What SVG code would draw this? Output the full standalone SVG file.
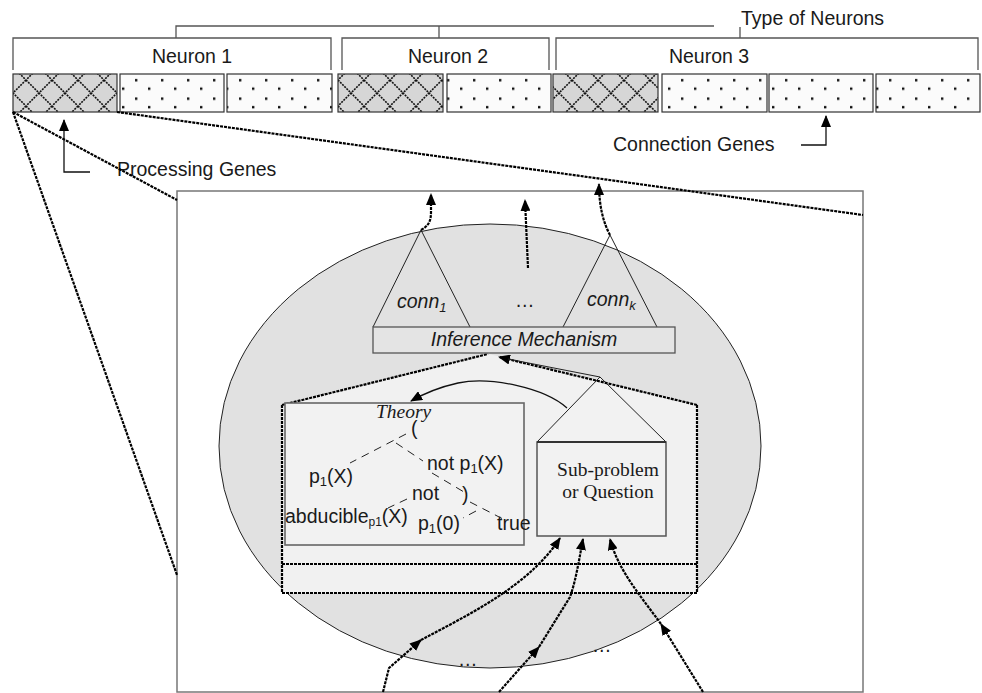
<svg xmlns="http://www.w3.org/2000/svg" width="982" height="693" viewBox="0 0 982 693">
<defs>
<style>
text{font-family:"Liberation Sans",Arial,sans-serif;font-size:19.5px;fill:#1a1a1a}
.serif{font-family:"Liberation Serif","Times New Roman",serif}
.it{font-style:italic}
.br{fill:none;stroke:#555;stroke-width:1.3}
.cell{stroke:#333;stroke-width:1.2}
.dash{fill:none;stroke:#000;stroke-width:2.2;stroke-dasharray:3 1}
.thin{fill:none;stroke:#222;stroke-width:1}
.tree{fill:none;stroke:#222;stroke-width:1;stroke-dasharray:8 6}
.arr{fill:none;stroke:#111;stroke-width:1.3}
.arrd{fill:none;stroke:#000;stroke-width:2.2;stroke-dasharray:3 1}
</style>
<pattern id="hatch" patternUnits="userSpaceOnUse" x="0" y="80" width="26" height="26">
<rect width="26" height="26" fill="#d6d6d6"/>
<path d="M0,0 L26,26 M26,0 L0,26" stroke="#111" stroke-width="1.6" stroke-dasharray="2 1"/>
</pattern>
<pattern id="dots" patternUnits="userSpaceOnUse" x="0" y="74" width="26" height="18.5">
<rect width="26" height="18.5" fill="#fbfbfb"/>
<rect x="5" y="5" width="2.4" height="2.4" fill="#111"/>
<rect x="18" y="13.5" width="2.4" height="2.4" fill="#111"/>
</pattern>
<marker id="ah" viewBox="0 0 12 10" refX="11" refY="5" markerWidth="12" markerHeight="10" markerUnits="userSpaceOnUse" orient="auto"><path d="M0,0 L12,5 L0,10 z" fill="#000"/></marker>
</defs>

<g id="type-bracket">
<path class="br" d="M176,38 V26 H714 M439,26 V38 M740,27 V38"/>
<text x="741" y="25">Type of Neurons</text>
</g>
<g id="neuron1-bracket">
<path class="br" d="M13,70 V38 H331 V70"/>
<text x="192" y="63" text-anchor="middle">Neuron 1</text>
</g>
<g id="neuron2-bracket">
<path class="br" d="M342,70 V38 H549 V70"/>
<text x="448" y="63" text-anchor="middle">Neuron 2</text>
</g>
<g id="neuron3-bracket">
<path class="br" d="M556,70 V38 H978 V70"/>
<text x="709" y="63" text-anchor="middle">Neuron 3</text>
</g>

<g id="genes">
<rect class="cell" x="13" y="74" width="104" height="38" fill="url(#hatch)"/>
<rect class="cell" x="120" y="74" width="104" height="38" fill="url(#dots)"/>
<rect class="cell" x="227" y="74" width="105" height="38" fill="url(#dots)"/>
<rect class="cell" x="338" y="74" width="105" height="38" fill="url(#hatch)"/>
<rect class="cell" x="447" y="74" width="104" height="38" fill="url(#dots)"/>
<rect class="cell" x="553" y="74" width="105" height="38" fill="url(#hatch)"/>
<rect class="cell" x="662" y="74" width="105" height="38" fill="url(#dots)"/>
<rect class="cell" x="769" y="74" width="104" height="38" fill="url(#dots)"/>
<rect class="cell" x="876" y="74" width="104" height="38" fill="url(#dots)"/>
</g>

<g id="processing-genes">
<path class="arr" d="M90,172 H64 V120" marker-end="url(#ah)"/>
<text x="117" y="176">Processing Genes</text>
</g>
<g id="connection-genes">
<path class="arr" d="M801,145 H826 V116" marker-end="url(#ah)"/>
<text x="613" y="151">Connection Genes</text>
</g>

<g id="neuron-box">
<rect x="177" y="191" width="686" height="501" fill="#fff" stroke="#777" stroke-width="1.5"/>
</g>

<g id="ellipse">
<ellipse cx="490" cy="446" rx="271" ry="222" fill="#e1e1e1" stroke="#222" stroke-width="1"/>
</g>

<g id="zoom-lines">
<path class="dash" d="M13,112 L177,200"/>
<path class="dash" d="M13,112 L177,575"/>
<path class="dash" d="M117,112 L863,215"/>
</g>

<g id="clause-region">
<polygon points="282,405 488,354 498,356 697,405 697,593 282,593" fill="#f1f1f1"/>
<path class="dash" d="M282,405 L488,354 M282,405 V593 H697 V405 M282,564 H697"/>
</g>

<g id="theory">
<rect x="285" y="403" width="239" height="142" fill="#f2f2f2" stroke="#666" stroke-width="1.6"/>
<text class="serif it" x="376" y="418">Theory</text>
<text x="411" y="435">(</text>
<text x="309" y="483">p<tspan font-size="13" dy="3">1</tspan><tspan dy="-3">(X)</tspan></text>
<text x="427" y="470">not p<tspan font-size="13" dy="3">1</tspan><tspan dy="-3">(X)</tspan></text>
<text x="412" y="500">not</text>
<text x="462" y="501">)</text>
<text x="285" y="523">abducible<tspan font-size="12" dy="3">p1</tspan><tspan dy="-3">(X)</tspan></text>
<text x="418" y="530">p<tspan font-size="13" dy="3">1</tspan><tspan dy="-3">(0)</tspan></text>
<text x="497" y="530">true</text>
<path class="tree" d="M406,434 L350,463 M396,443 L423,461 M432,473 L464,492 M470,502 L503,519 M407,499 L388,508 M476,511 L463,518"/>
</g>

<g id="sub-problem">
<path d="M537,442 L600,377 L666,442" fill="#f2f2f2" stroke="#222" stroke-width="1"/>
<rect x="537" y="442" width="129" height="94" fill="#f2f2f2" stroke="#555" stroke-width="1.5"/>
<path d="M537,442 H666" stroke="#333" stroke-width="2"/>
<text class="serif" x="608" y="476" text-anchor="middle">Sub-problem</text>
<text class="serif" x="608" y="498" text-anchor="middle">or Question</text>
</g>

<g id="conn1">
<path class="thin" d="M373,327 L421,230 L470,327"/>
<text class="it" x="397" y="308">conn<tspan font-size="13" dy="4">1</tspan></text>
</g>
<g id="connk">
<path class="thin" d="M563,327 L610,235 L657,327"/>
<text class="it" x="587" y="306">conn<tspan font-size="13" dy="4">k</tspan></text>
</g>
<text x="515" y="307">…</text>

<g id="inference">
<rect x="373" y="327" width="302" height="26" fill="#e4e4e4" stroke="#555" stroke-width="1.3"/>
<text class="it" x="524" y="346" text-anchor="middle">Inference Mechanism</text>
</g>

<text x="458" y="666" font-size="14">…</text>
<text x="592" y="652" font-size="14">…</text>

<g id="connectors">
<path class="arrd" d="M421,230 C428,226 431,222 431,212 L431,194" marker-end="url(#ah)"/>
<path class="arrd" d="M528,268 L525,200" marker-end="url(#ah)"/>
<path class="arrd" d="M610,235 C603,222 599,205 599,184" marker-end="url(#ah)"/>
<path class="arrd" d="M697,405 L499,357" marker-end="url(#ah)"/>
<path class="thin" d="M600,377 L508,359"/>
<path class="arr" d="M567,408 C545,388 490,376 458,383 C440,387 425,393 411,401" marker-end="url(#ah)"/>
<path class="arrd" d="M383,692 L389,668 L421,640" marker-end="url(#ah)"/>
<path class="arrd" d="M421,640 C470,614 530,585 560,538" marker-end="url(#ah)"/>
<path class="arrd" d="M499,692 L539,647" marker-end="url(#ah)"/>
<path class="arrd" d="M539,647 L570,597 C576,580 579,560 583,539" marker-end="url(#ah)"/>
<path class="arrd" d="M703,692 L661,624" marker-end="url(#ah)"/>
<path class="arrd" d="M661,624 C640,595 618,570 610,539" marker-end="url(#ah)"/>
</g>
</svg>
